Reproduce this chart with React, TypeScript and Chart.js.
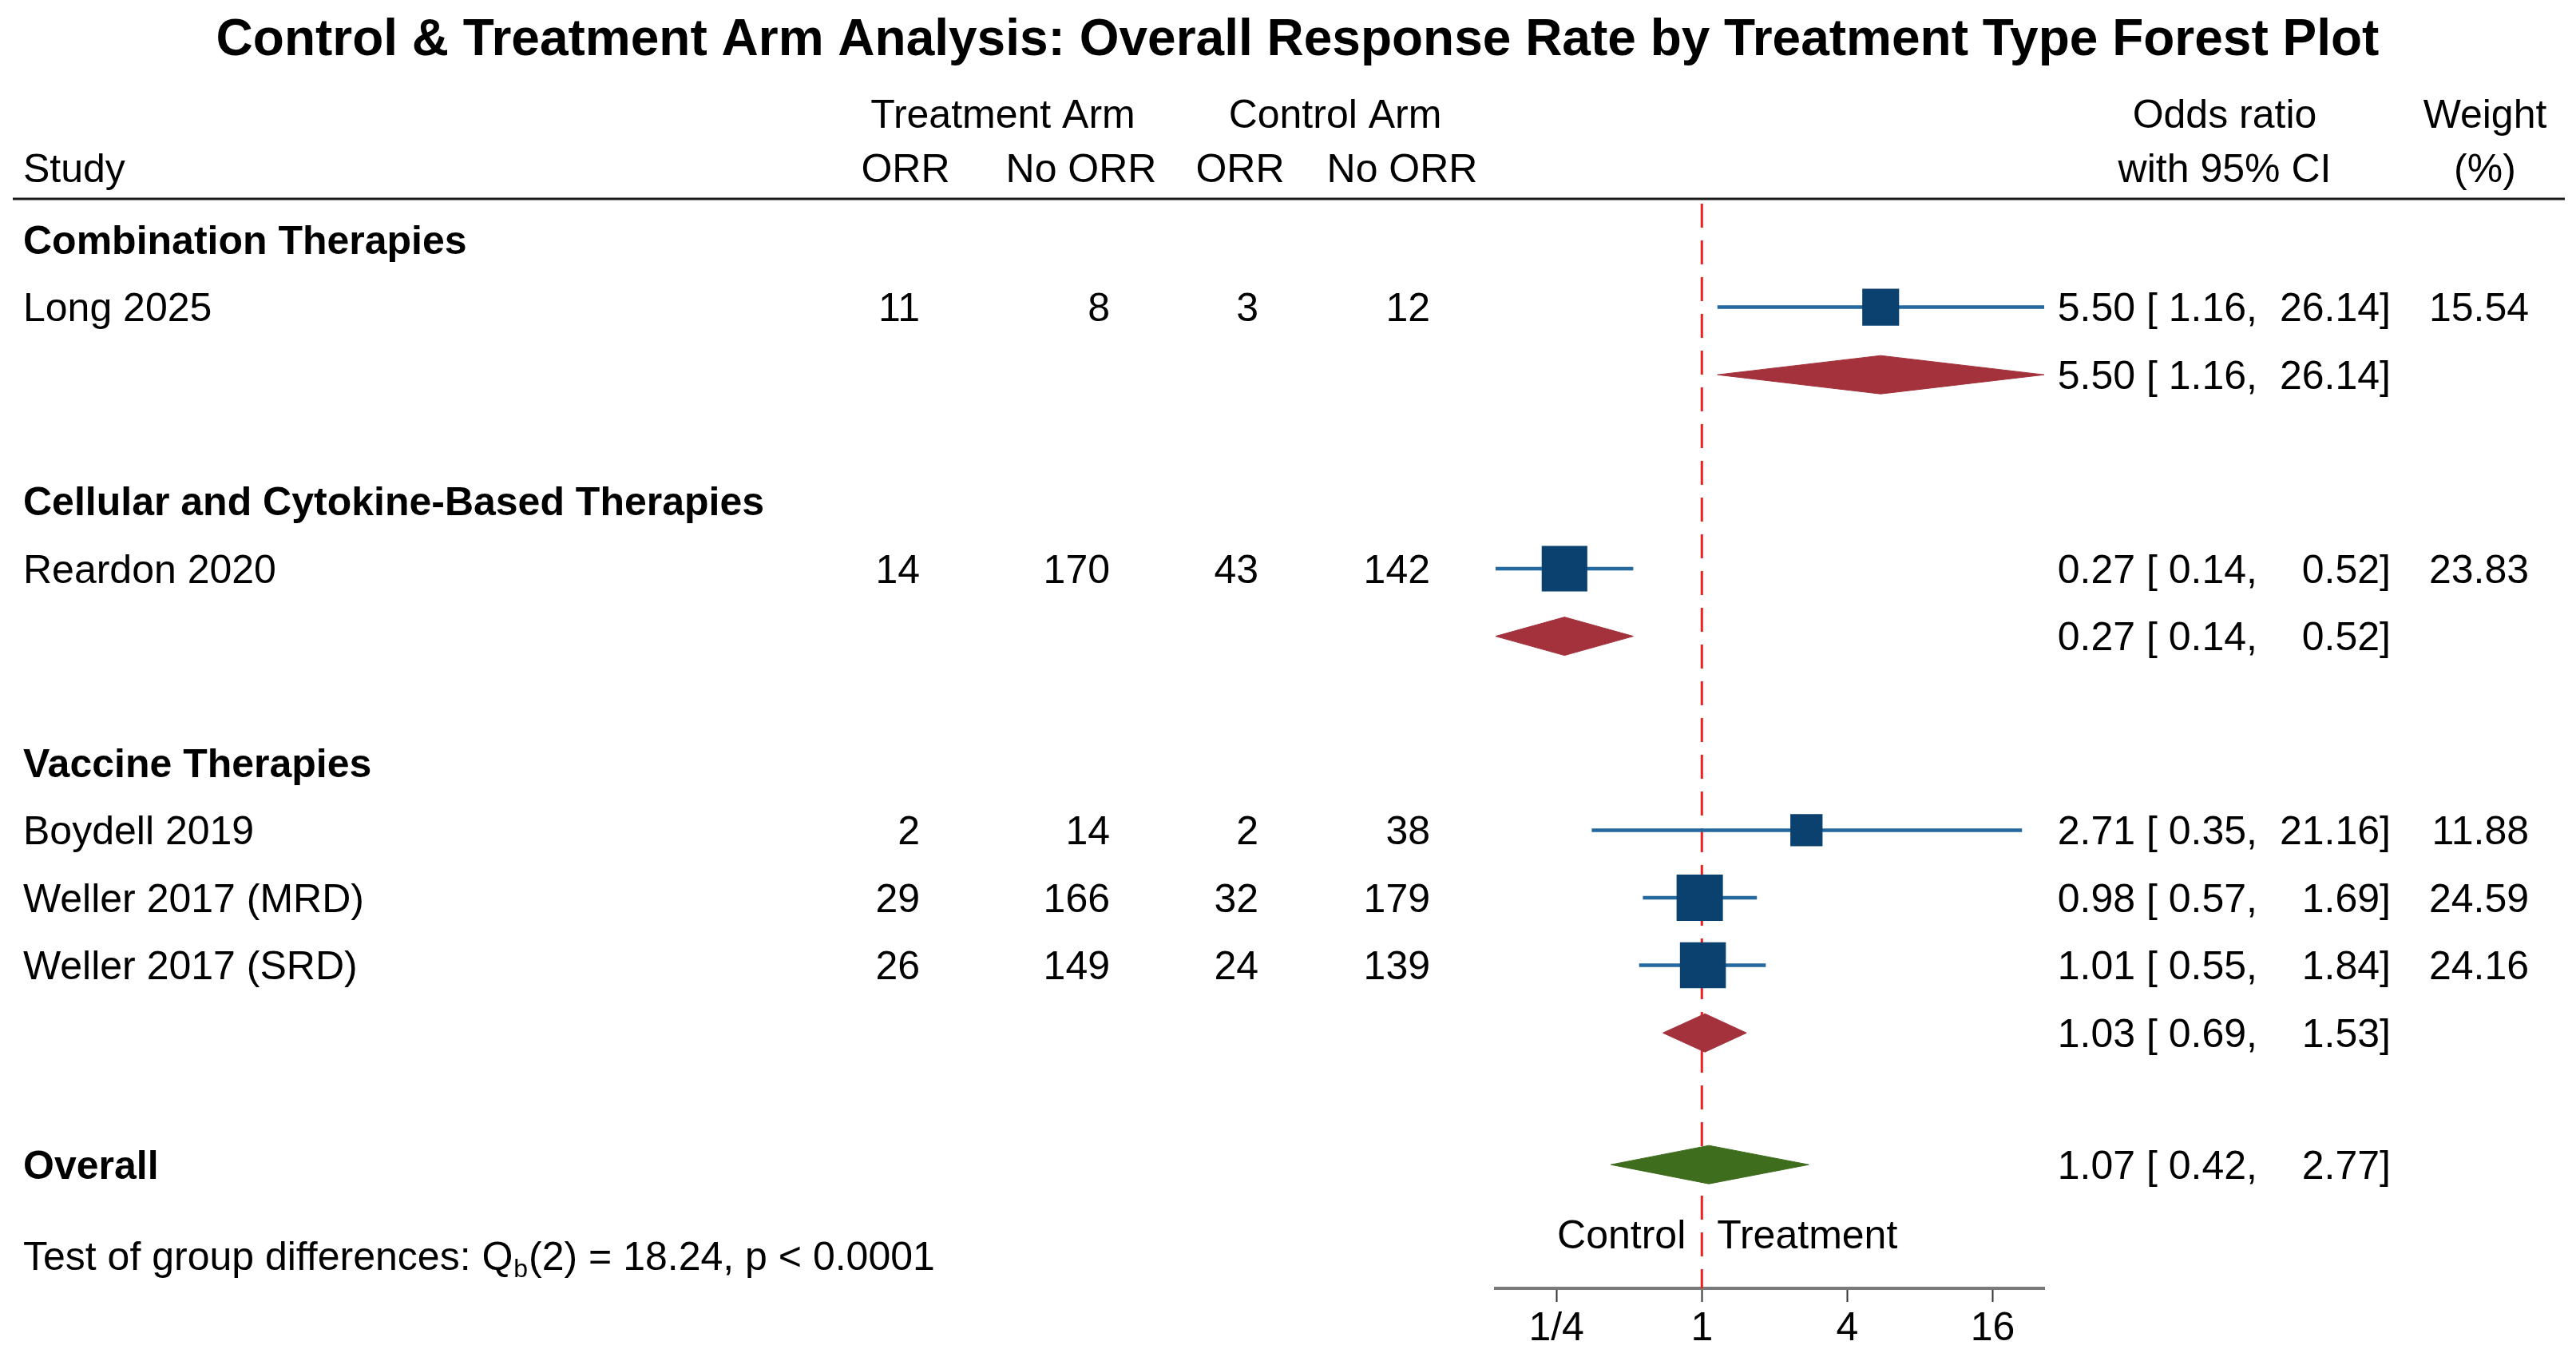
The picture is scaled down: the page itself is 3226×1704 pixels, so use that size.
import React, { useEffect, useRef } from 'react';
import { Chart, registerables } from 'chart.js';

Chart.register(...registerables);

// ---------------- data ----------------
const title = 'Control & Treatment Arm Analysis: Overall Response Rate by Treatment Type Forest Plot';
const groupNames = ['Combination Therapies', 'Cellular and Cytokine-Based Therapies', 'Vaccine Therapies'];
const studyNames = ['Long 2025', 'Reardon 2020', 'Boydell 2019', 'Weller 2017 (MRD)', 'Weller 2017 (SRD)'];
const studyGroup = [0, 1, 2, 2, 2];
const trtORR = [11, 14, 2, 29, 26];
const trtNoORR = [8, 170, 14, 166, 149];
const ctlORR = [3, 43, 2, 32, 24];
const ctlNoORR = [12, 142, 38, 179, 139];
const studyOR = [5.5, 0.27, 2.71, 0.98, 1.01];
const studyLo = [1.16, 0.14, 0.35, 0.57, 0.55];
const studyHi = [26.14, 0.52, 21.16, 1.69, 1.84];
const studyWeight = [15.54, 23.83, 11.88, 24.59, 24.16];
const groupOR = [5.5, 0.27, 1.03];
const groupLo = [1.16, 0.14, 0.69];
const groupHi = [26.14, 0.52, 1.53];
const overallOR = 1.07;
const overallLo = 0.42;
const overallHi = 2.77;
const xTickValues = [0.25, 1, 4, 16];
const xTickLabels = ['1/4', '1', '4', '16'];
const headerTop = ['Treatment Arm', 'Control Arm', 'Odds ratio', 'Weight'];
const headerBottom = ['Study', 'ORR', 'No ORR', 'ORR', 'No ORR', 'with 95% CI', '(%)'];
const testText = ['Test of group differences: Q', 'b', '(2) = 18.24, p < 0.0001'];
const directionLabels = ['Control', 'Treatment'];

// ---------------- layout / style ----------------
const W = 3226;
const H = 1704;
const FONT = '"Liberation Sans", Arial, Helvetica, sans-serif';
const BODY = 50;
const TEXT_DY = 4;
const ROW_PX = 84.6;
const FIRST_ROW_PX = 300;
const AREA_TOP = 255;
const AREA_BOTTOM = 1613;
const AREA_LEFT = 1873;
const AREA_RIGHT = 2560;
const GROUP_GAP = 1.87;
const OVERALL_GAP = 1.95;
const DIAMOND_HALF = 24 / ROW_PX;
const SQUARE_COLOR = '#0a416f';
const CI_COLOR = '#23699f';
const GROUP_DIAMOND = '#a3323c';
const OVERALL_DIAMOND = '#3e6d1e';
const REF_COLOR = '#f01e1e';

const fmt = (v: number) => v.toFixed(2);

export default function App() {
  const ref = useRef<HTMLCanvasElement>(null);

  useEffect(() => {
    const canvas = ref.current;
    if (!canvas) return;

    // row positions (in row units) from structure
    const groupHeaderY: number[] = [];
    const groupDiamondY: number[] = [];
    const studyY: number[] = new Array(studyNames.length).fill(0);
    let y = 0;
    groupNames.forEach((_, g) => {
      groupHeaderY[g] = y;
      y += 1;
      studyNames.forEach((_, i) => {
        if (studyGroup[i] === g) {
          studyY[i] = y;
          y += 1;
        }
      });
      groupDiamondY[g] = y;
      if (g < groupNames.length - 1) y += GROUP_GAP;
    });
    const overallY = y + OVERALL_GAP;

    const yMin = -(FIRST_ROW_PX - AREA_TOP) / ROW_PX;
    const yMax = yMin + (AREA_BOTTOM - AREA_TOP) / ROW_PX;

    const xMin = Math.min(...studyLo, ...groupLo, overallLo);
    const xMax = Math.max(...studyHi, ...groupHi, overallHi);

    const diamond = (est: number, lo: number, hi: number, yy: number) => [
      { x: lo, y: yy },
      { x: est, y: yy - DIAMOND_HALF },
      { x: hi, y: yy },
      { x: est, y: yy + DIAMOND_HALF },
      { x: lo, y: yy },
    ];

    const datasets: any[] = [];
    // reference line at OR = 1
    datasets.push({
      type: 'line',
      data: [
        { x: 1, y: yMin },
        { x: 1, y: yMax },
      ],
      borderColor: REF_COLOR,
      borderWidth: 3,
      borderDash: [30, 16],
      pointRadius: 0,
      fill: false,
      order: 5,
    });
    // CI lines
    studyNames.forEach((_, i) => {
      datasets.push({
        type: 'line',
        data: [
          { x: studyLo[i], y: studyY[i] },
          { x: studyHi[i], y: studyY[i] },
        ],
        borderColor: CI_COLOR,
        borderWidth: 4.5,
        pointRadius: 0,
        fill: false,
        order: 3,
      });
    });
    // study squares
    datasets.push({
      type: 'scatter',
      data: studyNames.map((_, i) => ({ x: studyOR[i], y: studyY[i] })),
      pointStyle: 'rect',
      pointRadius: studyWeight.map((w) => (11.7 * Math.sqrt(w)) / Math.SQRT2),
      pointHoverRadius: studyWeight.map((w) => (11.7 * Math.sqrt(w)) / Math.SQRT2),
      backgroundColor: SQUARE_COLOR,
      borderWidth: 0,
      order: 1,
    });
    // group diamonds
    groupNames.forEach((_, g) => {
      datasets.push({
        type: 'line',
        data: diamond(groupOR[g], groupLo[g], groupHi[g], groupDiamondY[g]),
        borderColor: GROUP_DIAMOND,
        backgroundColor: GROUP_DIAMOND,
        borderWidth: 1,
        pointRadius: 0,
        tension: 0,
        fill: 'shape',
        order: 1,
      });
    });
    // overall diamond
    datasets.push({
      type: 'line',
      data: diamond(overallOR, overallLo, overallHi, overallY),
      borderColor: OVERALL_DIAMOND,
      backgroundColor: OVERALL_DIAMOND,
      borderWidth: 1,
      pointRadius: 0,
      tension: 0,
      fill: 'shape',
      order: 1,
    });

    const textPlugin = {
      id: 'forestText',
      afterDraw(chart: any) {
        const ctx: CanvasRenderingContext2D = chart.ctx;
        const ys = chart.scales.y;
        const xs = chart.scales.x;
        const txt = (s: string, x: number, yy: number, align: CanvasTextAlign, bold = false, size = BODY) => {
          ctx.font = `${bold ? 'bold ' : ''}${size}px ${FONT}`;
          ctx.textAlign = align;
          ctx.textBaseline = 'middle';
          ctx.fillStyle = '#000';
          ctx.fillText(s, x, yy + TEXT_DY);
        };
        ctx.save();
        // title
        txt(title, 1625, 47, 'center', true, 64);
        // header
        const h1 = 142;
        const h2 = 210;
        txt(headerTop[0], 1256, h1, 'center');
        txt(headerTop[1], 1672, h1, 'center');
        txt(headerTop[2], 2786, h1, 'center');
        txt(headerTop[3], 3112, h1, 'center');
        txt(headerBottom[0], 29, h2, 'left');
        txt(headerBottom[1], 1134, h2, 'center');
        txt(headerBottom[2], 1354, h2, 'center');
        txt(headerBottom[3], 1553, h2, 'center');
        txt(headerBottom[4], 1756, h2, 'center');
        txt(headerBottom[5], 2786, h2, 'center');
        txt(headerBottom[6], 3112, h2, 'center');
        ctx.strokeStyle = '#1a1a1a';
        ctx.lineWidth = 3;
        ctx.beginPath();
        ctx.moveTo(16, 249);
        ctx.lineTo(3212, 249);
        ctx.stroke();

        const ciText = (est: number, lo: number, hi: number, py: number) => {
          txt(fmt(est), 2674, py, 'right');
          txt('[', 2688, py, 'left');
          txt(fmt(lo), 2813, py, 'right');
          txt(',', 2813, py, 'left');
          txt(fmt(hi), 2980, py, 'right');
          txt(']', 2980, py, 'left');
        };

        groupNames.forEach((name, g) => {
          txt(name, 29, ys.getPixelForValue(groupHeaderY[g]), 'left', true);
          const py = ys.getPixelForValue(groupDiamondY[g]);
          ciText(groupOR[g], groupLo[g], groupHi[g], py);
        });
        studyNames.forEach((name, i) => {
          const py = ys.getPixelForValue(studyY[i]);
          txt(name, 29, py, 'left');
          txt(String(trtORR[i]), 1152, py, 'right');
          txt(String(trtNoORR[i]), 1390, py, 'right');
          txt(String(ctlORR[i]), 1576, py, 'right');
          txt(String(ctlNoORR[i]), 1791, py, 'right');
          ciText(studyOR[i], studyLo[i], studyHi[i], py);
          txt(fmt(studyWeight[i]), 3167, py, 'right');
        });
        const po = ys.getPixelForValue(overallY);
        txt('Overall', 29, po, 'left', true);
        ciText(overallOR, overallLo, overallHi, po);

        // direction labels
        const x1 = xs.getPixelForValue(1);
        const dy = chart.chartArea.bottom - 68;
        txt(directionLabels[0], x1 - 20, dy, 'right');
        txt(directionLabels[1], x1 + 19, dy, 'left');

        // test of group differences
        const ty = chart.chartArea.bottom - 41;
        ctx.font = `${BODY}px ${FONT}`;
        let tx = 29;
        txt(testText[0], tx, ty, 'left');
        ctx.font = `${BODY}px ${FONT}`;
        tx += ctx.measureText(testText[0]).width;
        txt(testText[1], tx + 1, ty + 14, 'left', false, 32);
        ctx.font = `32px ${FONT}`;
        tx += ctx.measureText(testText[1]).width + 2;
        txt(testText[2], tx, ty, 'left');
        ctx.restore();
      },
    };

    const chart = new Chart(canvas, {
      type: 'scatter',
      data: { datasets },
      options: {
        animation: false,
        responsive: false,
        maintainAspectRatio: false,
        events: [],
        layout: {
          padding: { left: AREA_LEFT, right: W - AREA_RIGHT, top: AREA_TOP, bottom: 0 },
        },
        plugins: {
          legend: { display: false },
          tooltip: { enabled: false },
          title: { display: false },
          filler: { drawTime: 'beforeDatasetDraw' },
        },
        scales: {
          x: {
            type: 'logarithmic',
            min: xMin,
            max: xMax,
            afterBuildTicks: (scale: any) => {
              scale.ticks = xTickValues.map((v) => ({ value: v }));
            },
            afterFit: (scale: any) => {
              scale.height = H - AREA_BOTTOM;
            },
            ticks: {
              autoSkip: false,
              maxRotation: 0,
              padding: 4,
              color: '#000',
              font: { family: FONT, size: BODY },
              callback: (v: any) => {
                const k = xTickValues.indexOf(Number(v));
                return k >= 0 ? xTickLabels[k] : '';
              },
            },
            grid: {
              display: true,
              drawOnChartArea: false,
              drawTicks: true,
              tickLength: 17,
              tickWidth: 2,
              tickColor: '#333',
            },
            border: { display: true, color: '#7a7a7a', width: 4 },
          },
          y: {
            type: 'linear',
            display: false,
            reverse: true,
            min: yMin,
            max: yMax,
          },
        },
      } as any,
      plugins: [textPlugin],
    });
    return () => chart.destroy();
  }, []);

  return (
    <div style={{ position: 'absolute', left: 0, top: 0, width: W, height: H, background: '#fff' }}>
      <canvas ref={ref} width={W} height={H} style={{ width: W, height: H, display: 'block' }} />
    </div>
  );
}
